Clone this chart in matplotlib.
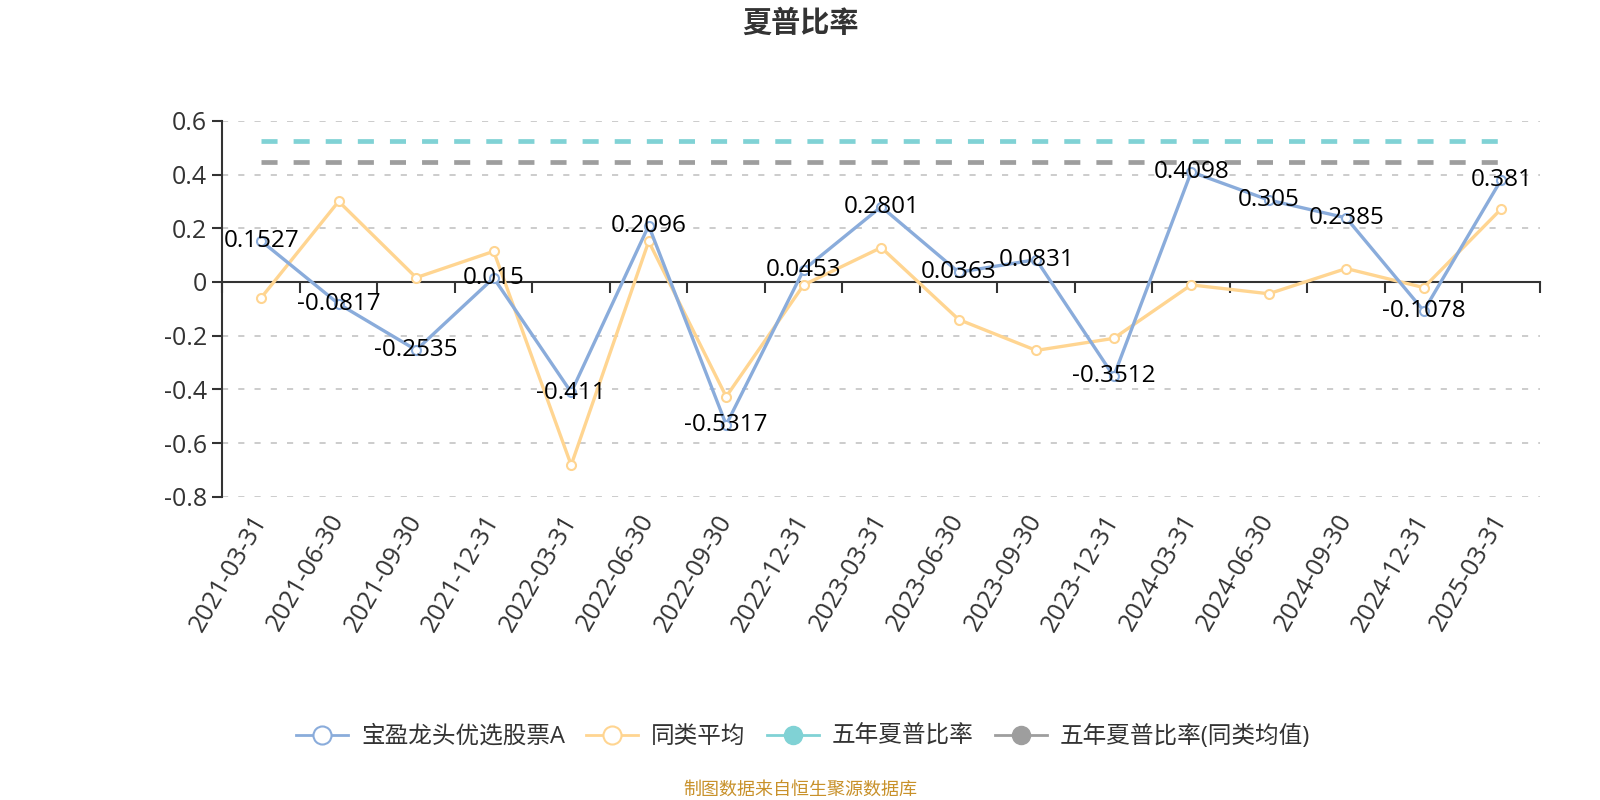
import matplotlib
matplotlib.use("Agg")
import matplotlib.pyplot as plt
from matplotlib.lines import Line2D

plt.rcParams["font.family"] = ["Open Sans", "Noto Sans CJK SC", "DejaVu Sans"]

dates = ["2021-03-31", "2021-06-30", "2021-09-30", "2021-12-31", "2022-03-31",
         "2022-06-30", "2022-09-30", "2022-12-31", "2023-03-31", "2023-06-30",
         "2023-09-30", "2023-12-31", "2024-03-31", "2024-06-30", "2024-09-30",
         "2024-12-31", "2025-03-31"]
fund = [0.1527, -0.0817, -0.2535, 0.015, -0.411, 0.2096, -0.5317, 0.0453, 0.2801,
        0.0363, 0.0831, -0.3512, 0.4098, 0.305, 0.2385, -0.1078, 0.381]
peer = [-0.059, 0.30, 0.016, 0.114, -0.682, 0.151, -0.427, -0.011, 0.128,
        -0.14, -0.255, -0.21, -0.011, -0.044, 0.05, -0.021, 0.272]
five_year = 0.524
five_year_peer = 0.448
yticks = [0.6, 0.4, 0.2, 0, -0.2, -0.4, -0.6, -0.8]

BLUE = "#8aacdb"
YELLOW = "#ffd591"
TEAL = "#80d2d5"
GRAY = "#9e9e9e"

fig = plt.figure(figsize=(16, 8), dpi=100)
ax = fig.add_axes([0.139, 0.379, 0.8235, 0.470])
x = list(range(len(dates)))

ax.plot(x, [five_year] * len(x), color=TEAL, lw=3.4, dashes=(3.4, 3.4), zorder=2)
ax.plot(x, [five_year_peer] * len(x), color=GRAY, lw=3.4, dashes=(3.4, 3.4), zorder=2)
ax.plot(x, fund, color=BLUE, lw=2.4, marker="o", ms=6.5, mfc="white",
        mec=BLUE, mew=1.5, zorder=4)
ax.plot(x, peer, color=YELLOW, lw=2.4, marker="o", ms=6.5, mfc="white",
        mec=YELLOW, mew=1.5, zorder=3)

for xi, v in zip(x, fund):
    ax.annotate(str(v), (xi, v), xytext=(0, 2), textcoords="offset points",
                ha="center", va="center_baseline", fontsize=17.5, color="#000000", zorder=5)

ax.set_xlim(-0.5, len(dates) - 0.5)
ax.set_ylim(-0.8, 0.6)
ax.set_yticks(yticks)
ax.set_yticklabels([f"{t:g}" for t in yticks])
ax.tick_params(axis="y", direction="out", length=7, width=1.5, color="#333333",
               labelsize=18, labelcolor="#333333", pad=4)
ax.grid(axis="y", color="#c8c8c8", lw=1.3, linestyle=(0, (3.4, 5.6)), zorder=0)

for s in ["top", "right"]:
    ax.spines[s].set_visible(False)
ax.spines["left"].set_color("#333333")
ax.spines["left"].set_linewidth(1.5)
ax.spines["bottom"].set_position(("data", 0))
ax.spines["bottom"].set_color("#333333")
ax.spines["bottom"].set_linewidth(1.5)
ax.set_xticks([i - 0.5 for i in range(len(dates) + 1)])
ax.set_xticklabels([])
ax.tick_params(axis="x", direction="out", length=8, width=1.5, color="#333333")

sec = ax.secondary_xaxis("bottom")
sec.set_xticks(x)
sec.set_xticklabels(dates, rotation=60, ha="right", va="center", rotation_mode="anchor")
sec.tick_params(axis="x", length=0, pad=14, labelsize=18, labelcolor="#333333")
sec.spines["bottom"].set_visible(False)

fig.text(0.5, 0.969, "夏普比率", ha="center", va="center", fontsize=21,
         fontweight="bold", color="#333333")

handles = [
    Line2D([], [], color=BLUE, lw=2, marker="o", ms=13, mfc="white", mec=BLUE, mew=1.5),
    Line2D([], [], color=YELLOW, lw=2, marker="o", ms=13, mfc="white", mec=YELLOW, mew=1.5),
    Line2D([], [], color=TEAL, lw=2, marker="o", ms=13, mfc=TEAL, mec=TEAL),
    Line2D([], [], color=GRAY, lw=2, marker="o", ms=13, mfc=GRAY, mec=GRAY),
]
labels = ["宝盈龙头优选股票A", "同类平均", "五年夏普比率", "五年夏普比率(同类均值)"]
leg = fig.legend(handles, labels, loc="center", bbox_to_anchor=(0.502, 0.079), ncol=4,
                 frameon=False, fontsize=17, handlelength=2.2, handletextpad=0.55,
                 columnspacing=0.9)
for t in leg.get_texts():
    t.set_color("#333333")

fig.text(0.5, 0.0125, "制图数据来自恒生聚源数据库", ha="center", va="center",
         fontsize=13, color="#c8912a")

fig.savefig("out.png", dpi=100, facecolor="white")
